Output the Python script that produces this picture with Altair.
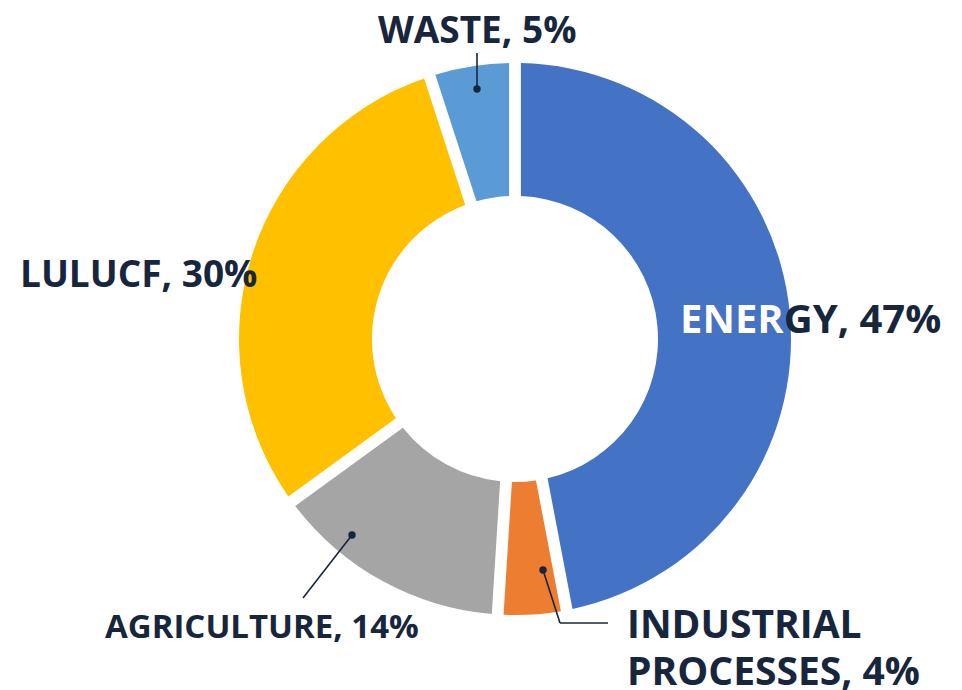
import altair as alt
import pandas as pd

# ---- data ----
categories = ["ENERGY", "INDUSTRIAL PROCESSES", "AGRICULTURE", "LULUCF", "WASTE"]
shares = [47, 4, 14, 30, 5]
colors = ["#4472C4", "#ED7D31", "#A5A5A5", "#FFC000", "#5B9BD5"]
order_idx = [0, 1, 2, 3, 4]

df = pd.DataFrame({"category": categories, "share": shares, "idx": order_idx})

TEXT = "#17263C"
FONT = "Open Sans"
CX, CY = 507, 331

donut = alt.Chart(df).mark_arc(
    innerRadius=143, outerRadius=276, padAngle=0.038
).encode(
    theta=alt.Theta("share:Q", stack=True),
    order=alt.Order("idx:Q"),
    color=alt.Color("category:N",
                    scale=alt.Scale(domain=categories, range=colors),
                    legend=None),
    x=alt.value(CX),
    y=alt.value(CY),
)

base = alt.Chart(pd.DataFrame({"a": [0]}))

def label(text, x, y, size=37, color=TEXT):
    return base.mark_text(
        text=text, font=FONT, fontWeight="bold", fontSize=size,
        align="left", baseline="alphabetic", color=color
    ).encode(x=alt.value(x), y=alt.value(y))

def rule(x1, y1, x2, y2):
    return base.mark_rule(color=TEXT, strokeWidth=1.6).encode(
        x=alt.value(x1), y=alt.value(y1), x2=alt.value(x2), y2=alt.value(y2))

def dot(x, y):
    return base.mark_circle(color=TEXT, opacity=1, size=55).encode(
        x=alt.value(x), y=alt.value(y))

labels = [
    label(f"{categories[4]}, {shares[4]}%", 370, 35, 37),
    label(f"{categories[0]}, {shares[0]}%", 672, 325, 40),
    label("ENER", 672, 325, 40, "white"),
    label(f"{categories[3]}, {shares[3]}%", 12, 279, 37),
    label(f"{categories[2]}, {shares[2]}%", 97, 630, 33),
    label("INDUSTRIAL", 619, 630, 39),
    label(f"PROCESSES, {shares[1]}%", 619, 677, 39),
]

leaders = [
    rule(469, 45, 469, 81), dot(469, 81),
    rule(344, 527, 295, 590), dot(344, 527),
    rule(535, 562, 552, 615), rule(552, 615, 600, 615), dot(535, 562),
]

chart = alt.layer(donut, *leaders, *labels).properties(
    width=946, height=682,
    autosize=alt.AutoSizeParams(type="fit", contains="padding"),
    padding=0,
    background="white",
).configure_view(stroke=None)

chart.save("out.html", embed_options={"renderer": "svg", "actions": False})
